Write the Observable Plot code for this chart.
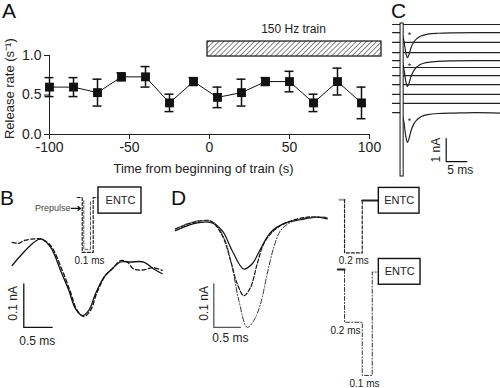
<!DOCTYPE html>
<html><head><meta charset="utf-8">
<script src="https://cdn.jsdelivr.net/npm/d3@7"></script>
<script src="https://cdn.jsdelivr.net/npm/@observablehq/plot@0.6"></script>
<style>
body{margin:0;background:#fff;}
#fig{position:relative;width:500px;height:388px;overflow:hidden;background:#fff;font-family:"Liberation Sans",Arial,Helvetica,sans-serif;color:#111;}
.lab{position:absolute;font-size:21px;line-height:1;color:#111;}
</style></head><body><div id="fig"></div>
<script>
const FONT = '"Liberation Sans", Arial, Helvetica, sans-serif';
// ---------- Panel A data ----------
const timeS = [-100,-85,-70,-55,-40,-25,-10,5,20,35,50,65,80,95];
const releaseRate = [0.60,0.60,0.53,0.73,0.73,0.40,0.67,0.47,0.53,0.67,0.67,0.40,0.67,0.40];
const rateErr = [0.12,0.12,0.17,0.05,0.13,0.11,0.05,0.13,0.17,0.05,0.13,0.11,0.17,0.20];
const xTicksA = [-100,-50,0,50,100];
const yTicksA = [0,0.5,1];
const trainBar = [{start:-1.25,end:107.5,low:0.987,high:1.177,label:"150 Hz train",labelX:52.5,labelY:1.33}];
const axisTitlesA = [
  {text:"Time from beginning of train (s)", x:-3.75, y:-0.43, rot:0},
  {text:"Release rate (s\u207B\u00B9)", x:-124.5, y:0.58, rot:-90}
];

// ---------- Panel B data (t in ms, current in nA) ----------
const bSolid = [[0.206,-0.055],[0.706,0.006],[0.882,-0.013],[1.059,-0.066],[1.205,-0.112],[1.323,-0.154],[1.442,-0.170],[1.558,-0.158],[1.676,-0.120],[1.823,-0.082],[1.941,-0.066],[2.118,-0.047],[2.294,-0.047],[2.529,-0.047],[2.705,-0.063],[2.853,-0.074]];
const bDashed = [[0.206,-0.002],[0.323,-0.004],[0.411,0.002],[0.588,0.006],[0.706,0.006],[0.882,-0.009],[1.089,-0.066],[1.235,-0.116],[1.353,-0.158],[1.470,-0.172],[1.588,-0.158],[1.706,-0.116],[1.853,-0.078],[1.971,-0.063],[2.118,-0.044],[2.236,-0.047],[2.352,-0.063],[2.529,-0.065],[2.677,-0.060],[2.853,-0.066]];
const bPulseOuter = [[1.353,0.101],[1.442,0.101],[1.442,-0.025],[1.636,-0.025],[1.636,0.101],[1.729,0.101]];
const bPulseInner = [[1.470,0.094],[1.470,-0.018],[1.588,-0.018],[1.588,0.094]];
const bBox = [{x1:1.729,x2:2.488,y1:0.064,y2:0.124}];
const bScaleBar = [[0.411,-0.097],[0.411,-0.197],[0.911,-0.197]];
const bArrow = [{x1:1.25,x2:1.41,y:0.076}];
const bPrepulse = [{t:1.235,v:0.076,text:"Prepulse"}];
const bTexts = [
  {t:2.118,v:0.094,text:"ENTC",size:11,rot:0},
  {t:1.570,v:-0.044,text:"0.1 ms",size:10,rot:0},
  {t:0.23,v:-0.142,text:"0.1 nA",size:12,rot:-90},
  {t:0.65,v:-0.229,text:"0.5 ms",size:12,rot:0}
];

// ---------- Panel C data (t in ms, current in nA, stacked sweeps) ----------
const cTime = [0,2,2.7,3.2,3.6,4.0,4.5,5.2,6,7,8.5,11,15,20,26];
const cBaseline = [0,-0.35,-0.78,-1.22,-1.57,-1.87,-2.22,-2.61,-3.04,-3.43,-3.83];
const cDipSweep2 = [0,0,-0.30,-0.85,-1.09,-0.95,-0.65,-0.40,-0.25,-0.14,-0.07,-0.03,-0.01,0,0];
const cDipSweep5 = [0,0,-0.30,-0.88,-1.13,-0.98,-0.68,-0.42,-0.26,-0.15,-0.08,-0.03,-0.01,0,0];
const cDipSweep11 = [0,0,-0.35,-1.00,-1.30,-1.13,-0.78,-0.48,-0.30,-0.17,-0.09,-0.04,-0.02,0,-0.02];
const cArtifact = [{x1:1.95,x2:2.7,y1:-6.61,y2:0.044}];
const cScaleBar = [[13,-4.96],[13,-5.96],[18,-5.96]];
const cStars = [[4.1,-0.48],[4.1,-1.83],[4.1,-4.22]];
const cTexts = [
  {t:10.6,v:-5.46,text:"1 nA",rot:-90},
  {t:16.4,v:-6.35,text:"5 ms",rot:0}
];

// ---------- Panel D data ----------
const dSolid = [[0.188,0.025],[0.532,0.041],[0.846,0.044],[1.066,0.025],[1.254,-0.021],[1.473,-0.063],[1.631,-0.051],[1.787,-0.017],[1.975,0.021],[2.225,0.041],[2.539,0.050],[2.865,0.056],[3.041,0.052]];
const dDashed = [[0.188,0.029],[0.532,0.044],[0.846,0.047],[1.066,0.014],[1.223,-0.043],[1.349,-0.097],[1.473,-0.124],[1.599,-0.105],[1.725,-0.051],[1.849,-0.005],[2.037,0.025],[2.289,0.044],[2.665,0.056],[3.041,0.054]];
const dDashDot = [[0.188,0.029],[0.408,0.041],[0.658,0.048],[0.908,0.044],[1.096,0.010],[1.254,-0.059],[1.379,-0.135],[1.537,-0.197],[1.661,-0.181],[1.787,-0.143],[1.913,-0.074],[2.037,-0.013],[2.163,0.025],[2.351,0.044],[2.665,0.054],[3.009,0.056]];
const dUpperStub = [[3.273,0.096],[3.367,0.096]];
const dUpperPulse = [[3.367,0.096],[3.367,-0.026],[3.700,-0.026],[3.700,0.094]];
const dUpperLead = [[3.700,0.094],[4.012,0.094]];
const dLowerStub = [[3.241,-0.064],[3.367,-0.064]];
const dLowerPulse = [[3.367,-0.064],[3.367,-0.185],[3.700,-0.185],[3.700,-0.307],[3.888,-0.307],[3.888,-0.070],[4.012,-0.070]];
const dBoxes = [{x1:4.012,x2:4.777,y1:0.064,y2:0.123},{x1:4.012,x2:4.796,y1:-0.099,y2:-0.040}];
const dScaleBar = [[0.908,-0.097],[0.908,-0.197],[1.408,-0.197]];
const dTexts = [
  {t:4.394,v:0.094,text:"ENTC",size:11,rot:0},
  {t:4.404,v:-0.069,text:"ENTC",size:11,rot:0},
  {t:3.541,v:-0.044,text:"0.2 ms",size:10,rot:0},
  {t:3.385,v:-0.204,text:"0.2 ms",size:10,rot:0},
  {t:3.743,v:-0.326,text:"0.1 ms",size:10,rot:0},
  {t:0.72,v:-0.142,text:"0.1 nA",size:12,rot:-90},
  {t:1.22,v:-0.222,text:"0.5 ms",size:12,rot:0}
];

const panelLetters = [["A",2,0],["B",0,187],["C",391,0],["D",171,187]];

// ---------- build ----------
const fig = document.getElementById("fig");
function place(node, left, top){
  node.style.position = "absolute";
  node.style.left = left + "px";
  node.style.top = top + "px";
  node.style.maxWidth = "none";
  fig.appendChild(node);
}
const baseStyle = {fontFamily: FONT, color: "#222", background: "transparent", overflow: "visible"};
const P = d => d[0], Q = d => d[1];

// Panel A
const dataA = timeS.map((t,i)=>({t, rate: releaseRate[i], err: rateErr[i]}));
const axisLineA = [{x: xTicksA[0], x2: xTicksA[xTicksA.length-1], y: yTicksA[0], y2: yTicksA[yTicksA.length-1]}];
const chartA = Plot.plot({
  width: 390, height: 180, marginLeft: 49, marginRight: 21, marginTop: 55, marginBottom: 46,
  style: {...baseStyle, fontSize: "13px"},
  x: {domain: [xTicksA[0], xTicksA[xTicksA.length-1]]},
  y: {domain: [yTicksA[0], yTicksA[yTicksA.length-1]]},
  marks: [
    Plot.rect(trainBar, {x1:"start", x2:"end", y1:"low", y2:"high", fill:"url(#hatchA)", stroke:"#111", strokeWidth:1.2}),
    Plot.text(trainBar, {x:"labelX", y:"labelY", text:"label", fontSize:12, fill:"#222"}),
    Plot.ruleX(axisLineA, {x:"x", y1:"y", y2:"y2", stroke:"#222", strokeWidth:1}),
    Plot.ruleY(axisLineA, {y:"y", x1:"x", x2:"x2", stroke:"#222", strokeWidth:1}),
    Plot.axisY({ticks: yTicksA, tickFormat: d3.format(".1f"), tickSize: 5, tickPadding: 3, fontSize: 14, label: null}),
    Plot.axisX({ticks: xTicksA, tickFormat: d => String(d), tickSize: 5, tickPadding: 3, fontSize: 14, label: null}),
    Plot.text(axisTitlesA, {x:"x", y:"y", text:"text", rotate:"rot", fontSize:13, fill:"#222"}),
    Plot.line(dataA, {x:"t", y:"rate", stroke:"#111", strokeWidth:1}),
    Plot.ruleX(dataA, {x:"t", y1:d=>d.rate-d.err, y2:d=>d.rate+d.err, stroke:"#111", strokeWidth:1.5}),
    Plot.ruleY(dataA, {y:d=>d.rate+d.err, x1:d=>d.t-2.8, x2:d=>d.t+2.8, stroke:"#111", strokeWidth:1.5}),
    Plot.ruleY(dataA, {y:d=>d.rate-d.err, x1:d=>d.t-2.8, x2:d=>d.t+2.8, stroke:"#111", strokeWidth:1.5}),
    Plot.dot(dataA, {x:"t", y:"rate", symbol:"square", r:5, fill:"#111", stroke:"none"})
  ]
});
const pat = d3.select(chartA).insert("defs", ":first-child")
  .append("pattern").attr("id","hatchA").attr("patternUnits","userSpaceOnUse")
  .attr("width",3.6).attr("height",3.6).attr("patternTransform","rotate(45)");
pat.append("line").attr("x1",0).attr("y1",0).attr("x2",0).attr("y2",3.6).attr("stroke","#222").attr("stroke-width",1.1);
place(chartA, 0, 0);

// Panel B
const chartB = Plot.plot({
  width: 170, height: 170, margin: 0,
  style: baseStyle,
  x: {domain: [0, 3], axis: null},
  y: {domain: [-0.25, 0.14], axis: null},
  marks: [
    Plot.line(bSolid, {x:P, y:Q, stroke:"#111", strokeWidth:1.3, curve:"catmull-rom"}),
    Plot.line(bDashed, {x:P, y:Q, stroke:"#111", strokeWidth:1.3, strokeDasharray:"4,2.5", curve:"catmull-rom"}),
    Plot.line(bPulseOuter, {x:P, y:Q, stroke:"#222", strokeWidth:1.2, strokeDasharray:"3,2"}),
    Plot.line(bPulseInner, {x:P, y:Q, stroke:"#555", strokeWidth:1, strokeDasharray:"3,2"}),
    Plot.rect(bBox, {x1:"x1", x2:"x2", y1:"y1", y2:"y2", fill:"white", stroke:"#111", strokeWidth:1.4}),
    Plot.line(bScaleBar, {x:P, y:Q, stroke:"#111", strokeWidth:1.3}),
    Plot.arrow(bArrow, {x1:"x1", x2:"x2", y1:"y", y2:"y", stroke:"#111", strokeWidth:1.3, headLength:5, headAngle:80}),
    Plot.text(bPrepulse, {x:"t", y:"v", text:"text", fontSize:9, textAnchor:"end", fill:"#444"}),
    Plot.text(bTexts, {x:"t", y:"v", text:"text", fontSize:d=>d.size, rotate:"rot", fill:"#222"})
  ]
});
place(chartB, 0, 180);

// Panel C
const cDips = {1: cDipSweep2, 4: cDipSweep5, 10: cDipSweep11};
const cData = cBaseline.flatMap((b, k) => cTime.map((t, i) => ({sweep: k, t, v: b + (cDips[k] ? cDips[k][i] : 0)})));
const chartC = Plot.plot({
  width: 120, height: 190, marginLeft: 12, marginRight: 0, marginTop: 20, marginBottom: 5,
  style: baseStyle,
  x: {domain: [0, 26.15], axis: null},
  y: {domain: [-7, 0.174], axis: null},
  marks: [
    Plot.line(cData, {x:"t", y:"v", z:"sweep", stroke:"#222", strokeWidth:1.2, curve:"monotone-x"}),
    Plot.rect(cArtifact, {x1:"x1", x2:"x2", y1:"y1", y2:"y2", fill:"white", stroke:"#111", strokeWidth:1}),
    Plot.text(cStars, {x:P, y:Q, text:()=>"*", fontSize:9, fill:"#222"}),
    Plot.line(cScaleBar, {x:P, y:Q, stroke:"#111", strokeWidth:1.2}),
    Plot.text(cTexts, {x:"t", y:"v", text:"text", rotate:"rot", fontSize:12, fill:"#222"})
  ]
});
place(chartC, 380, 0);

// Panel D
const chartD = Plot.plot({
  width: 335, height: 208, margin: 0,
  style: baseStyle,
  x: {domain: [0, 6.3], axis: null},
  y: {domain: [-0.337, 0.14], axis: null},
  marks: [
    Plot.line(dSolid, {x:P, y:Q, stroke:"#111", strokeWidth:1.2, curve:"catmull-rom"}),
    Plot.line(dDashed, {x:P, y:Q, stroke:"#111", strokeWidth:1.2, strokeDasharray:"4,2", curve:"catmull-rom"}),
    Plot.line(dDashDot, {x:P, y:Q, stroke:"#333", strokeWidth:1, strokeDasharray:"5,2,1,2", curve:"catmull-rom"}),
    Plot.line(dScaleBar, {x:P, y:Q, stroke:"#555", strokeWidth:1.3}),
    Plot.line(dUpperStub, {x:P, y:Q, stroke:"#999", strokeWidth:2}),
    Plot.line(dUpperPulse, {x:P, y:Q, stroke:"#222", strokeWidth:1.2, strokeDasharray:"3,2"}),
    Plot.line(dUpperLead, {x:P, y:Q, stroke:"#222", strokeWidth:2}),
    Plot.line(dLowerStub, {x:P, y:Q, stroke:"#222", strokeWidth:2}),
    Plot.line(dLowerPulse, {x:P, y:Q, stroke:"#333", strokeWidth:1, strokeDasharray:"4,2,1,2"}),
    Plot.rect(dBoxes, {x1:"x1", x2:"x2", y1:"y1", y2:"y2", fill:"white", stroke:"#111", strokeWidth:1.4}),
    Plot.text(dTexts, {x:"t", y:"v", text:"text", rotate:"rot", fontSize:d=>d.size, fill:"#222"})
  ]
});
place(chartD, 165, 180);

// panel letters
for (const [ch, left, top] of panelLetters) {
  const el = document.createElement("div");
  el.className = "lab";
  el.textContent = ch;
  el.style.left = left + "px";
  el.style.top = top + "px";
  fig.appendChild(el);
}
</script></body></html>
